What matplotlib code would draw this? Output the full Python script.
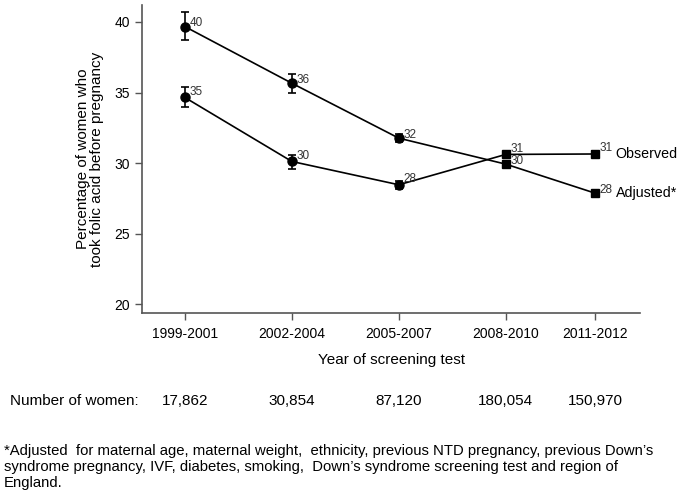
import matplotlib.pyplot as plt

plt.rcParams['font.family'] = ['Liberation Sans', 'DejaVu Sans']

periods = ["1999-2001", "2002-2004", "2005-2007", "2008-2010", "2011-2012"]
n_women = ["17,862", "30,854", "87,120", "180,054", "150,970"]

adjusted = [39.67, 35.66, 31.77, 29.93, 27.88]
adjusted_lo = [38.7, 35.0, 31.5, 29.75, 27.68]
adjusted_hi = [40.7, 36.3, 32.1, 30.12, 28.1]
adjusted_lab = ["40", "36", "32", "30", "28"]

observed = [34.65, 30.12, 28.47, 30.62, 30.65]
observed_lo = [34.0, 29.6, 28.2, 30.45, 30.47]
observed_hi = [35.4, 30.6, 28.75, 30.8, 30.85]
observed_lab = ["35", "30", "28", "31", "31"]

# x position = midpoint of each period
xs = [(int(p[:4]) + int(p[5:])) / 2 for p in periods]

fig = plt.figure(figsize=(6.8, 4.99), dpi=100)
ax = fig.add_axes([0.209, 0.373, 0.732, 0.617])

grey = "#555555"
series = [(adjusted, adjusted_lo, adjusted_hi, adjusted_lab, 2.5, "Adjusted*"),
          (observed, observed_lo, observed_hi, observed_lab, 4.0, "Observed")]
for vals, lo, hi, labs, dy, name in series:
    ax.plot(xs, vals, color="black", lw=1.2, zorder=2)
    yerr = [[v - l for v, l in zip(vals, lo)], [h - v for v, h in zip(vals, hi)]]
    ax.errorbar(xs, vals, yerr=yerr, fmt="none", ecolor="black", elinewidth=1.2,
                capsize=3, capthick=1.2, zorder=3)
    ax.plot(xs[:3], vals[:3], "o", color="black", ms=6.5, zorder=4)
    ax.plot(xs[3:], vals[3:], "s", color="black", ms=5.5, zorder=4)
    for x, v, t in zip(xs, vals, labs):
        ax.annotate(t, (x, v), xytext=(3.5, dy), textcoords="offset points",
                    ha="left", va="center", fontsize=8.5, color="#333333")
    ax.annotate(name, (xs[-1], vals[-1]), xytext=(15, 0),
                textcoords="offset points", ha="left", va="center", fontsize=10.3)

ax.set_xlim(1998.8, 2012.76)
ax.set_ylim(19.4, 41.2)
ax.set_yticks([20, 25, 30, 35, 40])
ax.set_xticks(xs)
ax.set_xticklabels(periods)
ax.tick_params(axis="both", labelsize=10, color=grey, length=5, width=1)
ax.tick_params(axis="x", pad=5)
for s in ["top", "right"]:
    ax.spines[s].set_visible(False)
for s in ["left", "bottom"]:
    ax.spines[s].set_color(grey)
    ax.spines[s].set_linewidth(1.2)

ax.set_ylabel("Percentage of women who\ntook folic acid before pregnancy",
              fontsize=11, labelpad=8, linespacing=0.95)
ax.set_xlabel("Year of screening test", fontsize=11, labelpad=9)

yrow = 1 - 401 / 499
fig.text(10 / 680, yrow, "Number of women:", fontsize=11, va="center")
for x, n in zip(xs, n_women):
    xf = fig.transFigure.inverted().transform(ax.transData.transform((x, 0)))[0]
    fig.text(xf, yrow, n, fontsize=11, va="center", ha="center")

fig.text(4 / 680, 1 - 444 / 499,
         "*Adjusted  for maternal age, maternal weight,  ethnicity, previous NTD pregnancy, previous Down\u2019s\n"
         "syndrome pregnancy, IVF, diabetes, smoking,  Down\u2019s syndrome screening test and region of\n"
         "England.", fontsize=10.7, va="top", linespacing=1.2)

fig.savefig("out.png", dpi=100)
